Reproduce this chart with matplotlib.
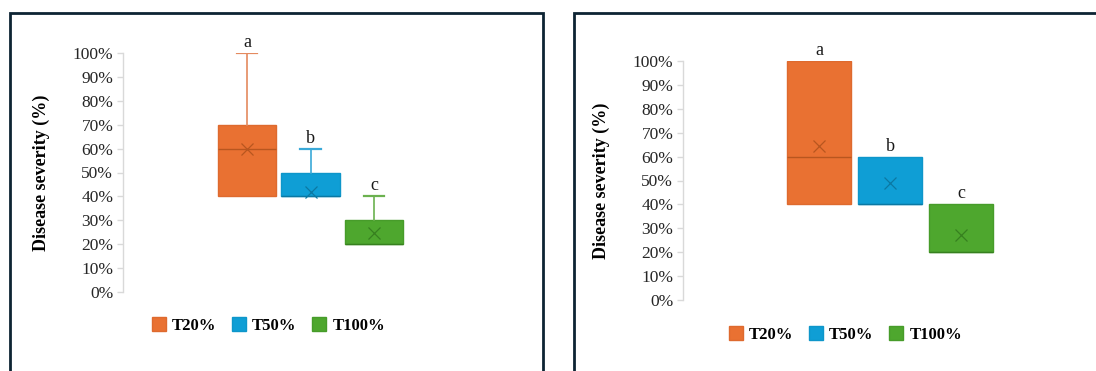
import matplotlib
matplotlib.use("Agg")
import matplotlib.pyplot as plt
from matplotlib.patches import Rectangle
from matplotlib.lines import Line2D
from matplotlib.ticker import PercentFormatter

plt.rcParams["font.family"] = ["Liberation Serif", "DejaVu Serif"]

# Treatments and their colours
groups = ["T20%", "T50%", "T100%"]
fills = ["#E97132", "#0F9ED5", "#4EA72E"]
edges = ["#DE6A2E", "#0E96CA", "#479C2A"]
whisk = ["#E48A5F", "#3AA9D8", "#6BB14F"]
darks = ["#B8561F", "#0B78A3", "#37801F"]
letters = ["a", "b", "c"]

# Left panel: five-number summaries and means (disease severity, %)
left_min = [40, 40, 20]
left_q1 = [40, 40, 20]
left_med = [60, 40, 20]
left_q3 = [70, 50, 30]
left_max = [100, 60, 40]
left_mean = [60, 42, 24.5]

# Right panel
right_min = [40, 40, 20]
right_q1 = [40, 40, 20]
right_med = [60, 40, 20]
right_q3 = [100, 60, 40]
right_max = [100, 60, 40]
right_mean = [64.5, 49, 27]

yticks = list(range(0, 101, 10))

W, H = 1096, 371
fig = plt.figure(figsize=(W / 100, H / 100), dpi=100)


def px_axes(x0, x1, y_top, y_bot):
    """Axes rectangle given in pixel coordinates (origin top-left)."""
    return fig.add_axes([x0 / W, 1 - y_bot / H, (x1 - x0) / W, (y_bot - y_top) / H])


def draw_panel(ax, mins, q1s, meds, q3s, maxs, means, axis_px, first_px, step_px, right_px,
               width, legend_xy):
    lo = 1 - (first_px - axis_px) / step_px
    hi = 1 + (right_px - first_px) / step_px
    ax.set_xlim(lo, hi)
    ax.set_ylim(0, 100)
    for i, g in enumerate(groups):
        st = dict(label=g, whislo=mins[i], q1=q1s[i], med=meds[i], q3=q3s[i],
                  whishi=maxs[i], mean=means[i], fliers=[])
        parts = ax.bxp([st], positions=[i + 1], widths=width, patch_artist=True,
                       showmeans=True, showcaps=True,
                       boxprops=dict(facecolor=fills[i], edgecolor=edges[i], linewidth=1.0),
                       medianprops=dict(color=darks[i], linewidth=1.0),
                       whiskerprops=dict(color=whisk[i], linewidth=1.2),
                       capprops=dict(color=whisk[i], linewidth=1.6),
                       meanprops=dict(marker="x", markeredgecolor=darks[i], markersize=9,
                                      markeredgewidth=0.9),
                       capwidths=0.33)
        # hide caps where the whisker has zero length
        low_cap, high_cap = parts["caps"]
        low_cap.set_visible(mins[i] < q1s[i])
        high_cap.set_visible(maxs[i] > q3s[i])
        top = max(maxs[i], q3s[i])
        ax.text(i + 1, top + 0.8, letters[i], ha="center", va="bottom", fontsize=13,
                color="#1a1a1a")
    for s in ["top", "right", "bottom"]:
        ax.spines[s].set_visible(False)
    ax.spines["left"].set_color("#D9D9D9")
    ax.spines["left"].set_linewidth(1.0)
    ax.set_xticks([])
    ax.set_yticks(yticks)
    ax.yaxis.set_major_formatter(PercentFormatter(decimals=0))
    ax.tick_params(axis="y", length=4, width=1.0, color="#D9D9D9", labelsize=12.5,
                   labelcolor="#262626", pad=3)
    ax.set_ylabel("Disease severity (%)", fontsize=13, fontweight="bold", labelpad=16,
                  color="#000000")
    handles = [Line2D([], [], linestyle="none", marker="s", markersize=10,
                      markerfacecolor=fills[i], markeredgecolor=edges[i], label=g)
               for i, g in enumerate(groups)]
    fig.legend(handles=handles, loc="center", ncol=3, frameon=False,
               bbox_to_anchor=(legend_xy[0] / W, 1 - legend_xy[1] / H),
               prop=dict(weight="bold", size=12), handlelength=0.9, handletextpad=0.35,
               columnspacing=0.9)


ax1 = px_axes(123, 520, 53, 292)
draw_panel(ax1, left_min, left_q1, left_med, left_q3, left_max, left_mean,
           123, 247, 63.5, 520, 0.92, (268, 326))

ax2 = px_axes(683, 1080, 61, 300)
draw_panel(ax2, right_min, right_q1, right_med, right_q3, right_max, right_mean,
           683, 819, 71, 1080, 0.9, (845, 335))

# Dark frames around the two panels
for x0, x1, y0 in [(10, 543, 13), (574, 1110, 13)]:
    fig.add_artist(Rectangle((x0 / W, -0.1), (x1 - x0) / W, 1.1 - y0 / H,
                             transform=fig.transFigure, fill=False,
                             edgecolor="#0D2433", linewidth=2.0, clip_on=False))

fig.savefig("out.png", dpi=100, facecolor="white")
